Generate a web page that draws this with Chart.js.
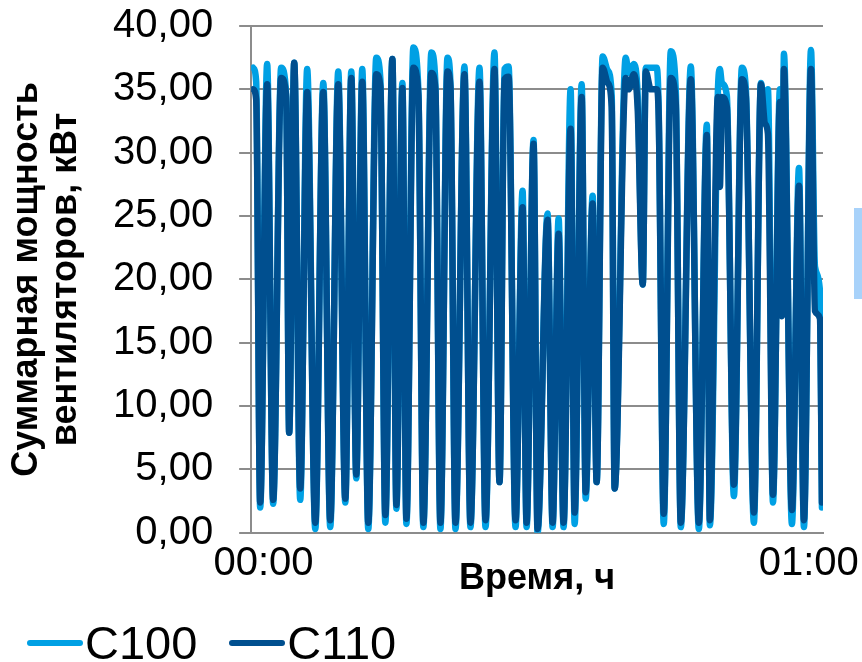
<!DOCTYPE html>
<html>
<head>
<meta charset="utf-8">
<script src="https://cdn.jsdelivr.net/npm/chart.js@4"></script>
<style>
  html, body { margin: 0; padding: 0; background: #fff; }
  #wrap { position: relative; width: 862px; height: 662px; overflow: hidden; }
  #legend { position: absolute; left: 27px; top: 619px; display: flex; gap: 32px;
    font-family: 'Liberation Sans', Arial, sans-serif; font-size: 47px; line-height: 1; color: #000; }
  #legend .item { display: flex; align-items: center; }
  #legend .sw { display: inline-block; width: 56px; height: 6px; border-radius: 3px; margin-right: 2px; }
  #stub { position: absolute; left: 854px; top: 208px; width: 8px; height: 91px; background: #a8d2fa; }
</style>
</head>
<body>
<div id="wrap">
  <canvas id="chart" width="862" height="662"></canvas>
  <div id="legend"></div>
  <div id="stub"></div>
</div>
<script>
// time, minutes from 00:00
const timeMin = [
  0.21, 0.53, 0.95, 1.68, 2.31, 3.15, 3.68, 3.99, 4.52, 5.15,
  5.88, 6.73, 7.57, 8.30, 9.14, 9.88, 10.51, 11.03, 11.66, 12.29,
  13.13, 13.56, 14.08, 14.82, 15.24, 15.87, 16.29, 17.02, 17.55, 18.07,
  18.91, 19.33, 19.86, 20.60, 20.91, 21.44, 22.38, 23.01, 23.96, 24.59,
  25.53, 26.06, 26.58, 27.01, 27.74, 28.48, 28.90, 29.63, 30.05, 31.10,
  31.63, 32.26, 32.78, 33.52, 33.94, 34.68, 35.10, 35.83, 36.25, 36.88,
  37.41, 37.83, 38.14, 39.30, 39.61, 40.14, 40.56, 41.09, 41.40, 41.93,
  42.56, 42.77, 43.29, 44.03, 44.55, 45.08, 46.13, 46.97, 47.81, 48.13,
  48.97, 49.18, 49.39, 49.91, 50.65, 51.49, 51.91, 52.75, 53.49, 53.91,
  54.22, 54.75, 55.48, 55.69, 55.90, 56.74, 57.48, 58.00, 58.74, 59.16,
  59.68, 59.89
];
// C100, kW
const c100 = [
  36.7, 35.6, 2.0, 37.0, 2.3, 36.7, 34.6, 7.9, 37.1, 2.6,
  36.6, 0.3, 35.5, 0.45, 36.4, 2.4, 36.4, 4.3, 36.6, 0.3,
  37.5, 35.8, 0.8, 37.4, 1.9, 35.5, 0.7, 38.3, 34.8, 0.45,
  37.9, 35.5, 0.3, 37.5, 35.5, 0.3, 36.8, 0.45, 36.7, 0.45,
  37.9, 4.0, 36.6, 36.8, 0.45, 27.0, 0.45, 31.0, 0.0, 25.2,
  0.45, 24.8, 0.45, 35.0, 0.7, 35.4, 2.7, 26.6, 4.0, 37.6,
  36.5, 34.5, 3.5, 37.5, 36.3, 37.0, 34.5, 19.6, 36.7, 36.7,
  36.7, 33.0, 0.7, 38.0, 35.0, 0.45, 36.8, 0.3, 32.2, 0.6,
  34.8, 36.6, 35.5, 34.5, 2.9, 36.7, 35.0, 0.8, 35.5, 33.0,
  35.0, 2.4, 35.0, 17.5, 37.8, 0.7, 28.8, 0.45, 38.1, 21.0,
  19.1, 2.0
];
// C110, kW
const c110 = [
  35.0, 34.2, 2.4, 35.4, 2.6, 35.9, 34.4, 7.9, 37.1, 3.5,
  34.8, 0.8, 34.8, 1.0, 35.4, 2.7, 35.9, 4.6, 35.6, 0.8,
  36.2, 35.2, 1.4, 37.4, 2.2, 35.1, 1.1, 36.7, 34.5, 0.8,
  36.3, 35.0, 0.8, 36.4, 35.2, 0.8, 36.2, 0.8, 35.6, 1.0,
  36.6, 4.0, 35.8, 36.0, 1.0, 25.7, 0.8, 30.7, 0.3, 24.7,
  0.8, 23.6, 0.8, 31.9, 1.6, 34.4, 3.2, 26.0, 4.0, 36.7,
  35.5, 33.6, 3.5, 35.9, 35.0, 36.2, 33.4, 19.6, 36.4, 35.0,
  35.0, 32.6, 1.5, 35.9, 33.9, 0.8, 35.8, 0.8, 31.4, 1.0,
  34.4, 27.3, 34.4, 33.6, 3.8, 35.8, 34.4, 1.6, 35.4, 32.3,
  31.5, 3.0, 34.0, 17.1, 36.6, 1.8, 27.4, 1.0, 36.6, 17.5,
  16.9, 2.4
];
const seriesNames = ['C100', 'C110'];
const seriesColors = ['#00a0e4', '#004f8f'];
const xTickLabels = ['00:00', '01:00'];
const xTickAt = [1.3, 58.5]; // where Excel put the two time labels

const FONT = "'Liberation Sans', Arial, sans-serif";
const GRID = '#8c8c8c';

const toPts = ys => ys.map((y, i) => ({ x: timeMin[i], y }));

const chart = new Chart(document.getElementById('chart').getContext('2d'), {
  type: 'line',
  data: {
    datasets: [c100, c110].map((ys, i) => ({
      label: seriesNames[i],
      data: toPts(ys),
      borderColor: seriesColors[i],
      backgroundColor: seriesColors[i],
      borderWidth: 6.5,
      borderCapStyle: 'round',
      borderJoinStyle: 'round',
      pointRadius: 0,
      fill: false,
      cubicInterpolationMode: 'monotone',
      order: 2 - i   // C110 drawn on top
    }))
  },
  options: {
    responsive: false,
    animation: false,
    layout: { padding: { left: 8, right: 39, top: 26, bottom: 61 } },
    plugins: { legend: { display: false }, tooltip: { enabled: false } },
    scales: {
      x: {
        type: 'linear', min: 0, max: 60,
        afterBuildTicks: s => { s.ticks = xTickAt.map(v => ({ value: v })); },
        grid: { display: false },
        border: { color: GRID, width: 2 },
        ticks: {
          callback: (v, i) => xTickLabels[i],
          autoSkip: false, maxRotation: 0, padding: -1,
          color: '#000', font: { family: FONT, size: 40 }
        },
        title: {
          display: true, text: 'Время, ч', color: '#000',
          font: { family: FONT, size: 36, weight: 'bold' },
          padding: { top: -29, bottom: 0 }
        }
      },
      y: {
        min: 0, max: 40,
        // big label gap would otherwise also push the plot down from the top
        afterFit: s => { s.paddingTop = 0; s.paddingBottom = 0; },
        grid: { color: GRID, lineWidth: 2, tickLength: 12 },
        border: { color: GRID, width: 2 },
        ticks: {
          stepSize: 5, padding: 26,
          callback: v => v.toFixed(2).replace('.', ','),
          color: '#000', font: { family: FONT, size: 40 }
        },
        title: {
          display: true, color: '#000',
          text: ['Суммарная мощность', 'вентиляторов, кВт'],
          font: { family: FONT, size: 36, weight: 'bold', lineHeight: 1.07 },
          padding: { top: 0, bottom: 2 }
        }
      }
    }
  }
});

// legend drawn as html, Excel-style short line + label
const legend = document.getElementById('legend');
seriesNames.forEach((name, i) => {
  const item = document.createElement('span');
  item.className = 'item';
  const sw = document.createElement('span');
  sw.className = 'sw';
  sw.style.background = seriesColors[i];
  item.appendChild(sw);
  item.appendChild(document.createTextNode(name));
  legend.appendChild(item);
});
</script>
</body>
</html>
